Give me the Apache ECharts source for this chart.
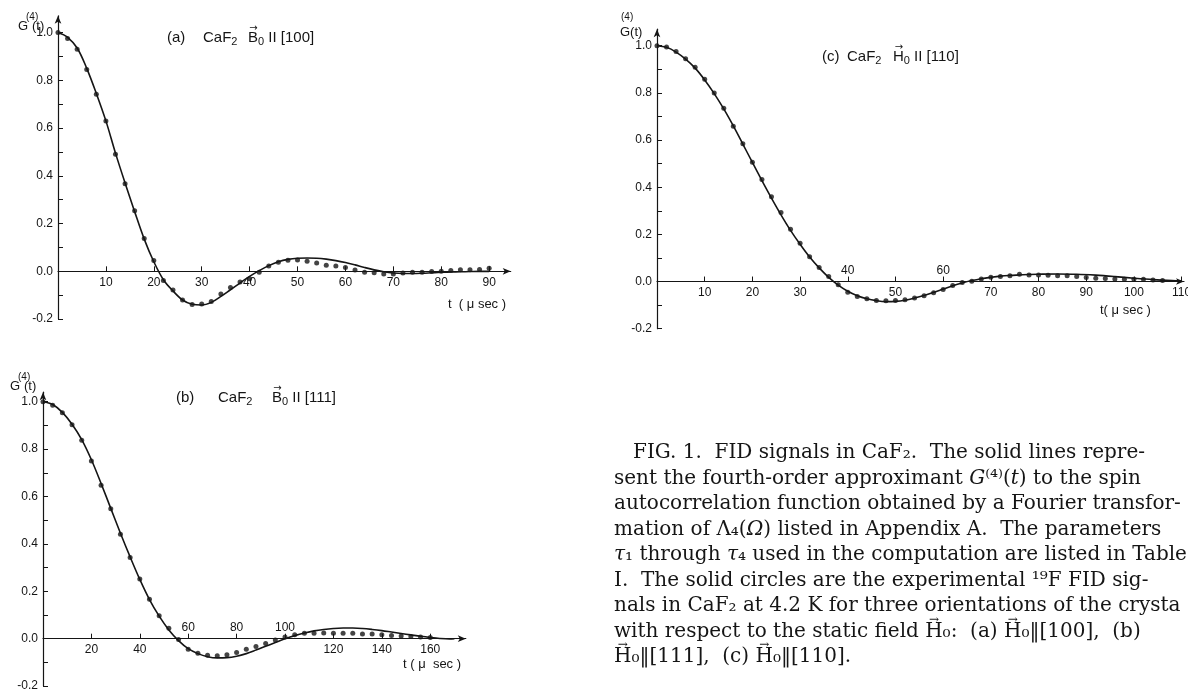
<!DOCTYPE html>
<html><head><meta charset="utf-8">
<script src="https://cdn.jsdelivr.net/npm/echarts@6/dist/echarts.min.js"></script>
<style>html,body{margin:0;padding:0;background:#fff}#c{width:1188px;height:692px}</style>
</head><body><div id="c"></div>
<script>
// ---------- panel (a) CaF2 B0 || [100] ----------
const aDotT = [0,2,4,6,8,10,12,14,16,18,20,22,24,26,28,30,32,34,36,38,40,42,44,46,48,50,52,54,56,58,60,62,64,66,68,70,72,74,76,78,80,82,84,86,88,90];
const aDotG = [1.0,0.975,0.93,0.845,0.742,0.63,0.49,0.367,0.254,0.137,0.045,-0.038,-0.078,-0.12,-0.139,-0.137,-0.126,-0.095,-0.068,-0.045,-0.031,-0.004,0.022,0.038,0.046,0.047,0.042,0.035,0.026,0.022,0.016,0.006,-0.004,-0.006,-0.011,-0.011,-0.007,-0.004,-0.004,-0.001,0.0,0.004,0.007,0.007,0.008,0.013];
const aLineT = [0,2,4,6,8,10,12,14,16,18,20,22,24,26,28,30,32,34,36,38,40,42,44,46,48,50,52,54,56,58,60,62,64,66,68,70,72,74,76,78,80,82,84,86,88,90];
const aLineG = [1.0,0.98,0.935,0.85,0.745,0.63,0.495,0.37,0.25,0.135,0.04,-0.035,-0.082,-0.12,-0.138,-0.141,-0.13,-0.105,-0.077,-0.049,-0.021,0.003,0.024,0.04,0.05,0.055,0.056,0.055,0.051,0.045,0.037,0.027,0.016,0.006,-0.002,-0.007,-0.009,-0.009,-0.008,-0.006,-0.004,-0.003,-0.002,-0.001,0.0,0.0];
const aXTicks = [10,20,30,40,50,60,70,80,90];

// ---------- panel (b) CaF2 B0 || [111] ----------
const bDotT = [0,4,8,12,16,20,24,28,32,36,40,44,48,52,56,60,64,68,72,76,80,84,88,92,96,100,104,108,112,116,120,124,128,132,136,140,144,148,152,156,160];
const bDotG = [1.0,0.985,0.953,0.903,0.837,0.75,0.647,0.548,0.441,0.343,0.252,0.166,0.097,0.044,-0.003,-0.044,-0.061,-0.07,-0.072,-0.068,-0.058,-0.045,-0.033,-0.02,-0.006,0.007,0.017,0.023,0.023,0.024,0.023,0.023,0.023,0.02,0.02,0.017,0.013,0.011,0.009,0.007,0.005];
const bLineT = [0,4,8,12,16,20,24,28,32,36,40,44,48,52,56,60,64,68,72,76,80,84,88,92,96,100,104,108,112,116,120,124,128,132,136,140,144,148,152,156,160,164,168,170];
const bLineG = [1.0,0.988,0.955,0.905,0.84,0.755,0.655,0.55,0.445,0.345,0.25,0.165,0.095,0.037,-0.008,-0.042,-0.063,-0.076,-0.081,-0.08,-0.074,-0.063,-0.048,-0.032,-0.016,0.0,0.013,0.024,0.033,0.039,0.043,0.045,0.045,0.043,0.039,0.034,0.028,0.022,0.016,0.01,0.005,0.001,-0.001,0.0];
const bXTicks = [20,40,60,80,100,120,140,160];
const bXBelow = [20,40,120,140,160];
const bXAbove = [60,80,100];

// ---------- panel (c) CaF2 H0 || [110] ----------
const cDotT = [0,2,4,6,8,10,12,14,16,18,20,22,24,26,28,30,32,34,36,38,40,42,44,46,48,50,52,54,56,58,60,62,64,66,68,70,72,74,76,78,80,82,84,86,88,90,92,94,96,98,100,102,104,106];
const cDotG = [1.0,0.994,0.975,0.945,0.909,0.858,0.799,0.735,0.658,0.584,0.506,0.433,0.359,0.293,0.222,0.162,0.105,0.06,0.021,-0.014,-0.045,-0.063,-0.073,-0.08,-0.082,-0.08,-0.077,-0.07,-0.06,-0.048,-0.034,-0.017,-0.004,0.001,0.011,0.018,0.021,0.025,0.031,0.028,0.028,0.027,0.025,0.024,0.021,0.017,0.014,0.013,0.011,0.01,0.01,0.01,0.007,0.004];
const cLineT = [0,2,4,6,8,10,12,14,16,18,20,22,24,26,28,30,32,34,36,38,40,42,44,46,48,50,52,54,56,58,60,62,64,66,68,70,72,74,76,78,80,84,88,92,96,100,104,108,110];
const cLineG = [1.0,0.993,0.973,0.943,0.905,0.855,0.797,0.732,0.66,0.583,0.505,0.428,0.354,0.283,0.217,0.158,0.104,0.058,0.018,-0.015,-0.041,-0.06,-0.073,-0.081,-0.085,-0.084,-0.079,-0.07,-0.059,-0.046,-0.032,-0.018,-0.006,0.004,0.012,0.018,0.023,0.026,0.028,0.03,0.031,0.032,0.031,0.027,0.021,0.014,0.008,0.004,0.003];
const cXTicks = [10,20,30,40,50,60,70,80,90,100,110];
const cXBelow = [10,20,30,50,70,80,90,100,110];
const cXAbove = [40,60];

// ---------- shared y ticks ----------
const yLabels = [-0.2,0,0.2,0.4,0.6,0.8,1.0];
const yTicks = [-0.2,-0.1,0,0.1,0.2,0.3,0.4,0.5,0.6,0.7,0.8,0.9,1.0];

// ---------- caption ----------
const captionLines = [
  '{n|FIG. 1.  FID signals in CaF₂.  The solid lines repre-}',
  '{n|sent the fourth-order approximant }{i|G}{n|⁽⁴⁾(}{i|t}{n|) to the spin}',
  '{n|autocorrelation function obtained by a Fourier transfor-}',
  '{n|mation of Λ₄(}{i|Ω}{n|) listed in Appendix A.  The parameters}',
  '{i|τ}{n|₁ through }{i|τ}{n|₄ used in the computation are listed in Table}',
  '{n|I.  The solid circles are the experimental ¹⁹F FID sig-}',
  '{n|nals in CaF₂ at 4.2 K for three orientations of the crysta}',
  '{n|with respect to the static field H₀:  (a) H₀‖[100],  (b)}',
  '{n|H₀‖[111],  (c) H₀‖[110].}'
];

const INK = '#151515';
const numFont = {fontFamily:'Liberation Sans', fontSize:12, color:INK};

const GRIDS = [
  {left:58, top:15.8, width:452.7, height:303.3},
  {left:43, top:392.2, width:422.8, height:293.9},
  {left:657, top:29.2, width:527, height:299.5}
];

function yAxisFor(grid, ymax){
  return {gridIndex:grid, type:'value', min:-0.2, max:ymax,
    axisLine:{show:true, symbol:['none','arrow'], symbolSize:[5,8], lineStyle:{color:INK,width:1.2}},
    axisTick:{show:true, inside:true, length:5, customValues:yTicks, lineStyle:{color:INK,width:1}},
    axisLabel:Object.assign({customValues:yLabels, margin:5, formatter:v=>v.toFixed(1)}, numFont),
    splitLine:{show:false}};
}
function xAxisMain(grid, xmax, ticks, labels){
  return {gridIndex:grid, type:'value', min:0, max:xmax, position:'bottom', offset:0,
    axisLine:{show:true, onZero:false, symbol:['none','arrow'], symbolSize:[5,8], lineStyle:{color:INK,width:1.2}},
    axisTick:{show:true, inside:true, length:5, customValues:ticks, lineStyle:{color:INK,width:1}},
    axisLabel:Object.assign({customValues:labels, margin:5}, numFont),
    splitLine:{show:false}};
}
function xAxisTop(grid, xmax, labels){
  return {gridIndex:grid, type:'value', min:0, max:xmax, position:'top', offset:0,
    axisLine:{show:false, onZero:false},
    axisTick:{show:false},
    axisLabel:Object.assign({customValues:labels, margin:5}, numFont),
    splitLine:{show:false}};
}
function zip(t,g){ return t.map((v,i)=>[v,g[i]]); }
function lineSeries(xi, yi, t, g){
  return {type:'line', xAxisIndex:xi, yAxisIndex:yi, data:zip(t,g), smooth:0.35, symbol:'none',
    lineStyle:{color:INK, width:1.6}, z:2, silent:true};
}
function dotSeries(xi, yi, t, g){
  return {type:'scatter', xAxisIndex:xi, yAxisIndex:yi, data:zip(t,g), symbol:'circle', symbolSize:5,
    itemStyle:{color:INK}, z:3, silent:true};
}

const mctx = document.createElement('canvas').getContext('2d');
function tw(str, font){ mctx.font = font; return mctx.measureText(str).width; }

const labFont = 'Liberation Sans';
function txt(x,y,text,size,extra){
  return Object.assign({type:'text', x:x, y:y, silent:true,
    style:{text:text, fontFamily:labFont, fontSize:size, fill:INK, verticalAlign:'middle', align:'left'}}, extra||{});
}
function vecArrow(cx, y, size, family){
  return {type:'text', x:cx, y:y, silent:true,
    style:{text:'→', fontFamily:family||'DejaVu Sans', fontSize:size, fill:INK, align:'center', verticalAlign:'middle'}};
}
const graphics = [];
const T_FS = 15, T_SUB = 11;
function title(pieces, y){
  pieces.forEach(p=>{
    let x = p[0];
    p[1].forEach(seg=>{
      const sub = seg[1] === 's';
      const fs = sub ? T_SUB : T_FS;
      graphics.push(txt(x, sub ? y + 4 : y, seg[0], fs));
      if (seg[2]) {
        const w = tw(seg[0].charAt(0), T_FS + 'px Liberation Sans');
        graphics.push(vecArrow(x + w/2 + 0.5, y - 10, 10));
      }
      x += tw(seg[0], fs + 'px Liberation Sans');
    });
  });
}
title([[167,[['(a)','n']]],[203,[['CaF','n'],['2','s']]],[248,[['B','n',true],['0','s'],[' II [100]','n']]]], 38);
title([[176,[['(b)','n']]],[218,[['CaF','n'],['2','s']]],[272,[['B','n',true],['0','s'],[' II [111]','n']]]], 398);
title([[822,[['(c)','n']]],[847,[['CaF','n'],['2','s']]],[893,[['H','n',true],['0','s'],[' II [110]','n']]]], 57);

// y-axis names
graphics.push(txt(18,26,'G',13), txt(26,17,'(4)',10), txt(32,26,'(t)',13));
graphics.push(txt(10,386,'G',13), txt(18,377,'(4)',10), txt(24,386,'(t)',13));
graphics.push(txt(621,17,'(4)',10), txt(620,32,'G(t)',13));
// x-axis names
graphics.push(txt(448,304,'t  ( μ sec )',13), txt(403,664,'t ( μ  sec )',13), txt(1100,310,'t( μ sec )',13));

// caption
const CAP_FS = 20, CAP_X = 614, CAP_Y = 453, CAP_DY = 25.5;
const capFont = CAP_FS + 'px DejaVu Serif';
captionLines.forEach((ln,k)=>{
  const x0 = (k===0 ? 633 : CAP_X), y0 = CAP_Y + CAP_DY*k;
  graphics.push({type:'text', x:x0, y:y0, silent:true,
    style:{text:ln, verticalAlign:'middle', align:'left',
      rich:{n:{fontFamily:'DejaVu Serif', fontSize:CAP_FS, fill:INK},
            i:{fontFamily:'DejaVu Serif', fontStyle:'italic', fontSize:CAP_FS, fill:INK}}}});
  const plain = ln.replace(/\{[a-z]\|/g,'').replace(/\}/g,'');
  for (let j = 0; j < plain.length; j++) {
    if (plain[j] === 'H' && plain[j+1] === '₀') {
      const xs = x0 + tw(plain.slice(0,j), capFont) + tw('H', capFont)/2;
      graphics.push(vecArrow(xs, y0 - 12, 12, 'DejaVu Serif'));
    }
  }
});

const chart = echarts.init(document.getElementById('c'), null, {renderer:'canvas'});
const option = {
  backgroundColor:'#ffffff',
  animation:false,
  grid: GRIDS.map(g=>Object.assign({outerBoundsMode:'none', containLabel:false}, g)),
  xAxis:[
    xAxisMain(0, 94.5, aXTicks, aXTicks),
    xAxisMain(1, 174.7, bXTicks, bXBelow),
    xAxisTop(1, 174.7, bXAbove),
    xAxisMain(2, 110.5, cXTicks, cXBelow),
    xAxisTop(2, 110.5, cXAbove)
  ],
  yAxis:[ yAxisFor(0,1.07), yAxisFor(1,1.04), yAxisFor(2,1.07) ],
  series:[
    lineSeries(0,0,aLineT,aLineG), dotSeries(0,0,aDotT,aDotG),
    lineSeries(1,1,bLineT,bLineG), dotSeries(1,1,bDotT,bDotG),
    lineSeries(3,2,cLineT,cLineG), dotSeries(3,2,cDotT,cDotG)
  ],
  graphic:graphics
};
chart.setOption(option);
// move the x axes onto the G = 0 line of each panel
const z0 = [0,1,2].map(i=>chart.convertToPixel({yAxisIndex:i}, 0));
const bottom = g=>g.top+g.height;
chart.setOption({xAxis:[
  {offset: -(bottom(GRIDS[0]) - z0[0])},
  {offset: -(bottom(GRIDS[1]) - z0[1])},
  {offset: -(z0[1] - GRIDS[1].top)},
  {offset: -(bottom(GRIDS[2]) - z0[2])},
  {offset: -(z0[2] - GRIDS[2].top)}
]});
</script></body></html>
